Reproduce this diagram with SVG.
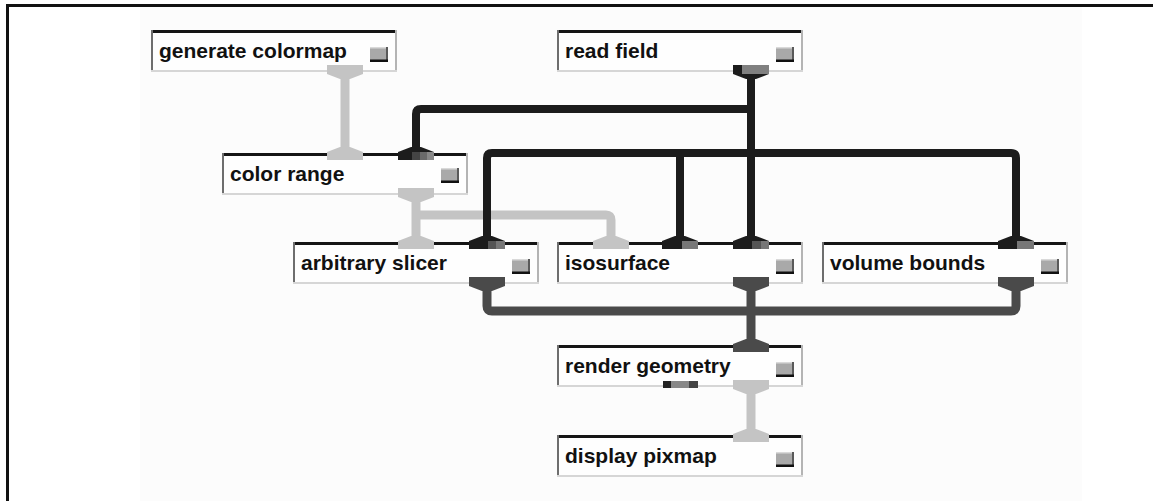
<svg xmlns="http://www.w3.org/2000/svg" xmlns:xlink="http://www.w3.org/1999/xlink" width="1153" height="501" viewBox="0 0 1153 501">
<style>
.bg{fill:#fefefe}
.bt{fill:#151515}
.bl{fill:#6e6e6e}
.br{fill:#b4b4b4}
.bb{fill:#d6d6d6}
.lbl{font-family:"Liberation Sans",Arial,sans-serif;font-weight:bold;font-size:21px;fill:#111}
.k{fill:#1c1c1c}
.dg{fill:#4a4a4a}
.lg{fill:#c4c4c4}
.ck{fill:none;stroke:#1c1c1c;stroke-width:8}
.cd{fill:none;stroke:#4a4a4a;stroke-width:9}
.cl{fill:none;stroke:#c4c4c4;stroke-width:9}
</style>
<defs>
<polygon id="outp" points="-18,-7 18,-7 18,2 5,7 -5,7 -18,2"/>
<polygon id="inp" points="-5,-6 5,-6 18,-1 18,7 -18,7 -18,-1"/>
<g id="btn">
<rect width="18" height="15" fill="#a9a9a9"/>
<rect width="18" height="1.5" fill="#d9d9d9"/>
<rect x="16" width="2" height="15" fill="#5a5a5a"/>
<rect y="12.5" width="18" height="2.5" fill="#111"/>
</g>
</defs>
<rect width="1153" height="501" fill="#ffffff"/>
<rect x="140" y="7" width="942" height="494" fill="#fcfcfc"/>
<rect x="6" y="4" width="1147" height="3" fill="#111"/>
<rect x="6" y="4" width="3" height="497" fill="#111"/>

<g id="connectors">
<path class="cl" d="M345 78 V148"/>
<path class="cl" d="M416 200 V237"/>
<path class="cl" d="M416 215 H606 Q611 215 611 220 V237"/>
<path class="cl" d="M751 393 V430"/>
<path class="ck" d="M751 78 V237"/>
<path class="ck" d="M751 109 H421 Q416 109 416 114 V148"/>
<path class="ck" d="M487 237 V158 Q487 153 492 153 H1011 Q1016 153 1016 158 V237"/>
<path class="ck" d="M680 153 V237"/>
<path class="cd" d="M487 290 V306 Q487 311 492 311 H1011 Q1016 311 1016 306 V290"/>
<path class="cd" d="M751 290 V340"/>
</g>

<g id="n-generate-colormap" transform="translate(151,30)">
<rect class="bg" width="246" height="42"/>
<rect class="bt" width="246" height="3"/>
<rect class="bl" width="2" height="42"/>
<rect class="br" x="244" width="2" height="42"/>
<rect class="bb" y="40" width="246" height="2"/>
<text class="lbl" x="8" y="28">generate colormap</text>
<use xlink:href="#btn" x="219" y="17"/>
<use xlink:href="#outp" x="194" y="42" class="lg"/>
</g>

<g id="n-read-field" transform="translate(557,30)">
<rect class="bg" width="246" height="42"/>
<rect class="bt" width="246" height="3"/>
<rect class="bl" width="2" height="42"/>
<rect class="br" x="244" width="2" height="42"/>
<rect class="bb" y="40" width="246" height="2"/>
<text class="lbl" x="8" y="28">read field</text>
<use xlink:href="#btn" x="219" y="17"/>
<use xlink:href="#outp" x="194" y="42" class="k"/>
<rect x="185" y="35" width="27" height="9" fill="#808080"/>
</g>

<g id="n-color-range" transform="translate(222,153)">
<rect class="bg" width="246" height="42"/>
<rect class="bt" width="246" height="3"/>
<rect class="bl" width="2" height="42"/>
<rect class="br" x="244" width="2" height="42"/>
<rect class="bb" y="40" width="246" height="2"/>
<text class="lbl" x="8" y="28">color range</text>
<use xlink:href="#btn" x="219" y="15"/>
<use xlink:href="#inp" x="123" y="0" class="lg"/>
<use xlink:href="#inp" x="194" y="0" class="k"/>
<rect x="190" y="-1" width="8" height="8" fill="#444"/>
<rect x="198" y="-1" width="7" height="8" fill="#6a6a6a"/>
<rect x="205" y="-1" width="7" height="8" fill="#888"/>
<use xlink:href="#outp" x="194" y="42" class="lg"/>
</g>

<g id="n-arbitrary-slicer" transform="translate(293,242)">
<rect class="bg" width="246" height="42"/>
<rect class="bt" width="246" height="3"/>
<rect class="bl" width="2" height="42"/>
<rect class="br" x="244" width="2" height="42"/>
<rect class="bb" y="40" width="246" height="2"/>
<text class="lbl" x="8" y="28">arbitrary slicer</text>
<use xlink:href="#btn" x="219" y="17"/>
<use xlink:href="#inp" x="123" y="0" class="lg"/>
<use xlink:href="#inp" x="194" y="0" class="k"/>
<rect x="195" y="-1" width="8" height="8" fill="#555"/>
<rect x="203" y="-1" width="9" height="8" fill="#777"/>
<use xlink:href="#outp" x="194" y="42" class="dg"/>
</g>

<g id="n-isosurface" transform="translate(557,242)">
<rect class="bg" width="246" height="42"/>
<rect class="bt" width="246" height="3"/>
<rect class="bl" width="2" height="42"/>
<rect class="br" x="244" width="2" height="42"/>
<rect class="bb" y="40" width="246" height="2"/>
<text class="lbl" x="8" y="28">isosurface</text>
<use xlink:href="#btn" x="219" y="17"/>
<use xlink:href="#inp" x="54" y="0" class="lg"/>
<use xlink:href="#inp" x="123" y="0" class="k"/>
<rect x="125" y="-1" width="16" height="8" fill="#777"/>
<use xlink:href="#inp" x="194" y="0" class="k"/>
<rect x="195" y="-1" width="9" height="8" fill="#555"/>
<rect x="204" y="-1" width="8" height="8" fill="#777"/>
<use xlink:href="#outp" x="194" y="42" class="dg"/>
</g>

<g id="n-volume-bounds" transform="translate(822,242)">
<rect class="bg" width="246" height="42"/>
<rect class="bt" width="246" height="3"/>
<rect class="bl" width="2" height="42"/>
<rect class="br" x="244" width="2" height="42"/>
<rect class="bb" y="40" width="246" height="2"/>
<text class="lbl" x="8" y="28">volume bounds</text>
<use xlink:href="#btn" x="219" y="17"/>
<use xlink:href="#inp" x="194" y="0" class="k"/>
<rect x="195" y="-1" width="17" height="8" fill="#777"/>
<use xlink:href="#outp" x="194" y="42" class="dg"/>
</g>

<g id="n-render-geometry" transform="translate(557,345)">
<rect class="bg" width="246" height="42"/>
<rect class="bt" width="246" height="3"/>
<rect class="bl" width="2" height="42"/>
<rect class="br" x="244" width="2" height="42"/>
<rect class="bb" y="40" width="246" height="2"/>
<text class="lbl" x="8" y="28">render geometry</text>
<use xlink:href="#btn" x="219" y="17"/>
<use xlink:href="#inp" x="194" y="0" class="dg"/>
<rect x="106" y="36" width="8" height="7" fill="#222"/>
<rect x="114" y="36" width="18" height="7" fill="#888"/>
<rect x="132" y="36" width="9" height="7" fill="#444"/>
<use xlink:href="#outp" x="194" y="42" class="lg"/>
</g>

<g id="n-display-pixmap" transform="translate(557,435)">
<rect class="bg" width="246" height="42"/>
<rect class="bt" width="246" height="3"/>
<rect class="bl" width="2" height="42"/>
<rect class="br" x="244" width="2" height="42"/>
<rect class="bb" y="40" width="246" height="2"/>
<text class="lbl" x="8" y="28">display pixmap</text>
<use xlink:href="#btn" x="219" y="17"/>
<use xlink:href="#inp" x="194" y="0" class="lg"/>
</g>
</svg>
